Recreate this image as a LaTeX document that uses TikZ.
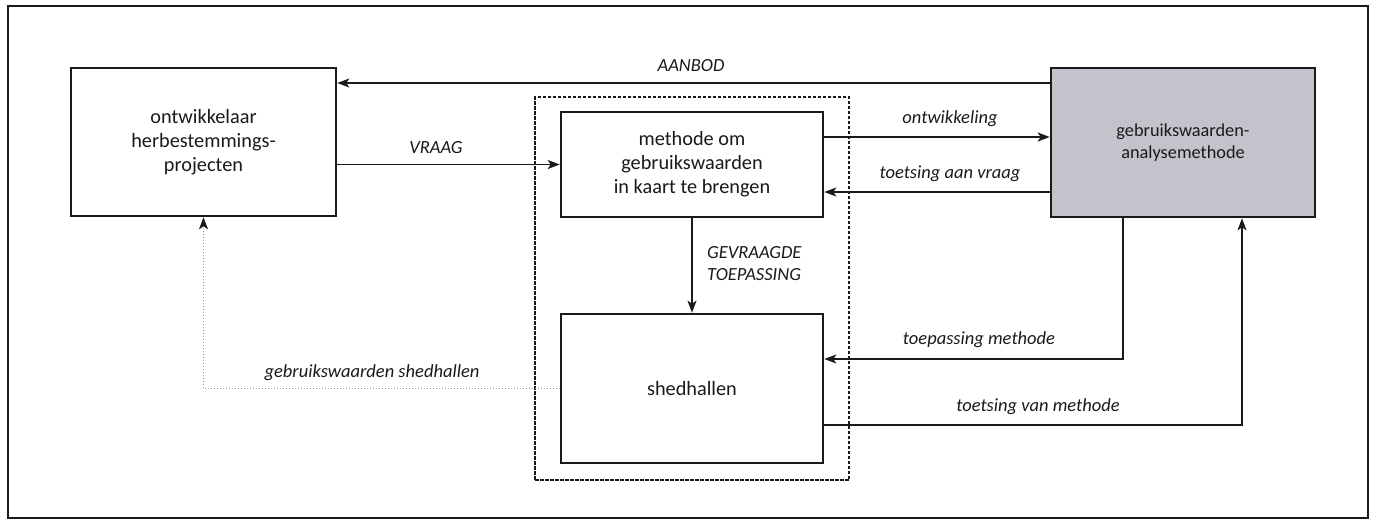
\documentclass[tikz,border=0pt]{standalone}
\usepackage{fontspec}
\setmainfont{Carlito}
\usetikzlibrary{arrows.meta}
\definecolor{ink}{HTML}{1A1A1A}
\definecolor{boxgray}{RGB}{194,195,203}
\definecolor{dotgray}{RGB}{150,150,150}
\begin{document}
\begin{tikzpicture}[x=1pt,y=-1pt,
  every node/.style={text=ink},
  block/.style={draw=ink, line width=2.6pt, inner sep=0pt, align=center,
                font=\fontsize{20.3}{24}\selectfont},
  lbl/.style={font=\fontsize{18.5}{22}\selectfont\itshape, inner sep=0pt},
  flow/.style={draw=ink, line width=1.5pt, -{Stealth[length=12pt,width=9pt,inset=3pt]}},
  feedback/.style={draw=dotgray, line width=1pt, dotted,
                   -{Stealth[length=12pt,width=9pt,inset=3pt,color=ink]}},
  group/.style={draw=ink, line width=1.2pt, dash pattern=on 3.5pt off 1.5pt, inner sep=0pt}
]
\useasboundingbox (0,0) rectangle (1374,523);
\fill[white] (0,0) rectangle (1374,523);

% outer frame
\node[draw=ink, line width=2pt, minimum width=1360pt, minimum height=512pt, inner sep=0pt]
  (frame) at (688,262) {};

% blocks
\node[block, minimum width=265pt, minimum height=148pt] (dev) at (203.5,142)
  {ontwikkelaar\\herbestemmings-\\projecten};
\node[group, minimum width=314pt, minimum height=383pt] (grp) at (692,288.5) {};
\node[block, minimum width=262pt, minimum height=105pt] (meth) at (692,164.5)
  {methode om\\gebruikswaarden\\in kaart te brengen};
\node[block, minimum width=262pt, minimum height=149pt] (shed) at (692,388.5) {shedhallen};
\node[block, fill=boxgray, minimum width=264pt, minimum height=149pt,
      font=\fontsize{18.3}{22}\selectfont] (tool) at (1183,142.5)
  {gebruikswaarden-\\analysemethode};

% connectors
\draw[flow] (tool.west |- 0,83) -- (dev.east |- 0,83);
\draw[flow] (dev.east |- meth.west) -- (meth.west);
\draw[flow] (meth.east |- 0,137) -- (tool.west |- 0,137);
\draw[flow] (tool.west |- 0,192) -- (meth.east |- 0,192);
\draw[flow] (meth.south) -- (shed.north);
\draw[flow] (tool.south -| 1123,0) |- (shed.east |- 0,359);
\draw[flow] (shed.east |- 0,425) -| (tool.south -| 1242,0);
\draw[feedback] (shed.west) -| (dev.south);

% labels
\node[lbl] (lAanbod) at (691,66) {AANBOD};
\node[lbl] (lVraag) at (436,148) {VRAAG};
\node[lbl] (lOntw) at (950,119) {ontwikkeling};
\node[lbl] (lToetsV) at (950,174) {toetsing aan vraag};
\node[lbl, anchor=west, align=left] (lGevr) at (707,264) {GEVRAAGDE\\TOEPASSING};
\node[lbl] (lToep) at (979,340) {toepassing methode};
\node[lbl] (lToetsM) at (1038,407) {toetsing van methode};
\node[lbl] (lGebr) at (372,373) {gebruikswaarden shedhallen};
\end{tikzpicture}
\end{document}
